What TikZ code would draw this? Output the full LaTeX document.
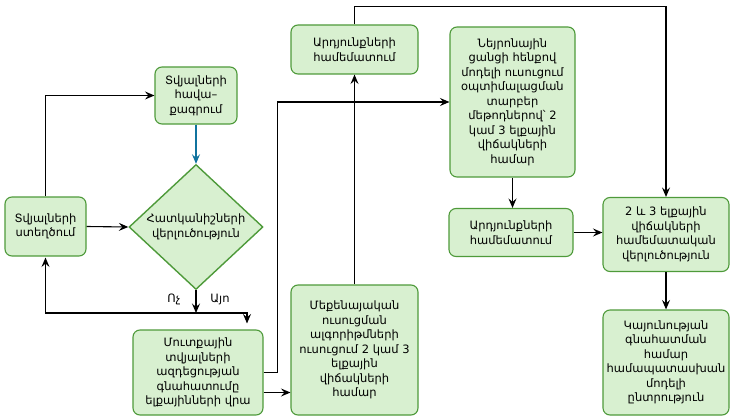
\documentclass[tikz,border=0pt]{standalone}
\usepackage{fontspec}
\setmainfont{DejaVu Sans}
\usetikzlibrary{shapes.geometric,arrows.meta,calc}
\definecolor{gfill}{HTML}{D8F0D0}
\definecolor{gdraw}{HTML}{4E9A3A}
\definecolor{barrow}{HTML}{10739E}
\begin{document}
\begin{tikzpicture}[x=1pt,y=-1pt,
  font=\fontsize{11.5}{14.5}\selectfont,
  box/.style={draw=gdraw,fill=gfill,line width=1.1pt,rounded corners=7pt,align=center,inner sep=0pt},
  dia/.style={draw=gdraw,fill=gfill,line width=1.4pt,diamond,align=center,inner sep=0pt},
  arr/.style={draw=black,line width=1.1pt,-{Stealth[length=9.5pt,width=8pt,inset=3.5pt]}},
  lbl/.style={font=\fontsize{11.5}{12}\selectfont,inner sep=0pt}]
\useasboundingbox (0,0) rectangle (730,417);
\node[box,minimum width=82pt,minimum height=57pt] (hav) at (196,95.5) {Տվյալների\\հավա–\\քագրում};
\node[box,minimum width=81pt,minimum height=59pt] (gen) at (45.5,226.5) {Տվյալների\\ստեղծում};
\node[dia,minimum width=134pt,minimum height=125pt] (dia) at (196,227) {Հատկանիշների\\վերլուծություն};
\node[box,minimum width=130pt,minimum height=85pt] (mutq) at (198,372.5) {Մուտքային\\տվյալների\\ազդեցության\\գնահատումը\\ելքայինների վրա};
\node[box,minimum width=127pt,minimum height=49pt] (ard1) at (354.5,49.5) {Արդյունքների\\համեմատում};
\node[box,minimum width=127pt,minimum height=130pt] (meq) at (354.5,350) {Մեքենայական\\ուսուցման\\ալգորիթմների\\ուսուցում 2 կամ 3\\ելքային\\վիճակների\\համար};
\node[box,minimum width=125pt,minimum height=150pt] (ney) at (512.5,102) {Նեյրոնային\\ցանցի հենքով\\մոդելի ուսուցում\\օպտիմալացման\\տարբեր\\մեթոդներով՝ 2\\կամ 3 ելքային\\վիճակների\\համար};
\node[box,minimum width=124pt,minimum height=48pt] (ard2) at (511,232.5) {Արդյունքների\\համեմատում};
\node[box,minimum width=126pt,minimum height=74pt] (comp) at (666,234.5) {2 և 3 ելքային\\վիճակների\\համեմատական\\վերլուծություն};
\node[box,minimum width=126pt,minimum height=105pt] (kay) at (666,362.5) {Կայունության\\գնահատման\\համար\\համապատասխան\\մոդելի\\ընտրություն};
\coordinate (j) at (dia.south |- 0,313);
\node[lbl] (no) at (174,299) {Ոչ};
\node[lbl] (yes) at (220,300) {Այո};
\draw[arr] (gen.north) |- (hav.west);
\draw[arr] (gen.east) -- (dia.west);
\draw[arr,draw=barrow,fill=barrow,line width=1.4pt] (hav.south) -- (dia.north);
\draw[arr] (dia.south) -- (j);
\draw[arr] (j) -| ([yshift=-1pt]gen.south);
\draw[arr] (j) -| ([xshift=49pt,yshift=6pt]mutq.north);
\draw[arr] (mutq.east) -- ++(14,0) |- (ney.west);
\draw[arr] ([yshift=-20pt]mutq.east) -- ([yshift=-20pt]mutq.east -| meq.west);
\draw[arr] (meq.north) -- (ard1.south);
\draw[arr] (ard1.north) -- ++(0,-18) -| (comp.north);
\draw[arr] (ney.south) -- (ney.south |- ard2.north);
\draw[arr] (ard2.east) -- (ard2.east -| comp.west);
\draw[arr] (comp.south) -- (kay.north);
\end{tikzpicture}
\end{document}
